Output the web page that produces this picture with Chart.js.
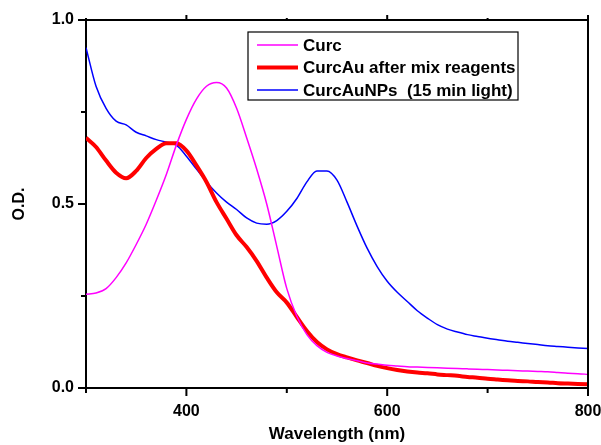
<!DOCTYPE html>
<html>
<head>
<meta charset="utf-8">
<script src="https://cdn.jsdelivr.net/npm/chart.js@4.4.1/dist/chart.umd.min.js"></script>
<style>
  html, body { margin: 0; padding: 0; background: #fff; }
  #wrap { width: 601px; height: 445px; }
</style>
</head>
<body>
<div id="wrap"><canvas id="chart" width="601" height="445"></canvas></div>
<script>
// 波长 (nm)
const wavelength = [300, 310, 320, 330, 340, 350, 360, 370, 380, 390,
                    400, 410, 420, 430, 440, 450, 460, 470, 480, 490,
                    500, 510, 520, 530, 540, 550, 560, 570, 580, 590,
                    600, 610, 620, 630, 640, 650, 660, 670, 680, 690,
                    700, 710, 720, 730, 740, 750, 760, 770, 780, 790, 800];

const curc = [0.255, 0.258, 0.270, 0.300, 0.340, 0.390, 0.445, 0.510, 0.580, 0.660,
              0.730, 0.785, 0.820, 0.830, 0.815, 0.760, 0.680, 0.595, 0.500, 0.385,
              0.270, 0.195, 0.145, 0.115, 0.097, 0.087, 0.080, 0.074, 0.068, 0.065,
              0.062, 0.060, 0.058, 0.057, 0.056, 0.055, 0.054, 0.053, 0.052, 0.051,
              0.050, 0.049, 0.048, 0.047, 0.046, 0.045, 0.044, 0.042, 0.040, 0.039, 0.037];

const curcAu = [0.680, 0.655, 0.618, 0.585, 0.570, 0.590, 0.625, 0.650, 0.665, 0.665,
                0.645, 0.605, 0.560, 0.505, 0.460, 0.415, 0.383, 0.345, 0.300, 0.260,
                0.232, 0.193, 0.155, 0.125, 0.105, 0.092, 0.083, 0.075, 0.068, 0.060,
                0.054, 0.049, 0.045, 0.042, 0.040, 0.037, 0.035, 0.033, 0.030, 0.028,
                0.025, 0.023, 0.021, 0.019, 0.018, 0.016, 0.015, 0.013, 0.012, 0.011, 0.010];

const curcAuNPs = [0.925, 0.820, 0.760, 0.725, 0.715, 0.695, 0.685, 0.675, 0.668, 0.660,
                   0.630, 0.595, 0.560, 0.530, 0.505, 0.485, 0.462, 0.448, 0.445, 0.455,
                   0.480, 0.515, 0.560, 0.590, 0.590, 0.565, 0.505, 0.440, 0.380, 0.330,
                   0.290, 0.260, 0.235, 0.210, 0.190, 0.172, 0.160, 0.152, 0.145, 0.140,
                   0.135, 0.131, 0.127, 0.124, 0.121, 0.118, 0.115, 0.113, 0.111, 0.109, 0.107];

const seriesNames = ['Curc', 'CurcAu after mix reagents', 'CurcAuNPs  (15 min light)'];
const xLabelTicks = [400, 600, 800];
const yLabelTicks = [0, 0.5, 1.0];

const FONT = "'Liberation Sans', Arial, sans-serif";
const toPoints = (ys) => wavelength.map((x, i) => ({ x: x, y: ys[i] }));

// 坐标轴刻度线（外向）+ 顶部/右侧边框
const axisPlugin = {
    id: 'axisTicks',
    afterDraw(chart) {
        const ctx = chart.ctx;
        const xs = chart.scales.x, ys = chart.scales.y;
        const a = chart.chartArea;
        ctx.save();
        ctx.strokeStyle = '#000';
        ctx.lineWidth = 2;
        ctx.beginPath();
        ctx.moveTo(a.left, a.top); ctx.lineTo(a.right, a.top); ctx.lineTo(a.right, a.bottom);
        ctx.stroke();
        for (let v = 300; v <= 800; v += 100) {
            const px = xs.getPixelForValue(v);
            const len = xLabelTicks.includes(v) ? 8 : 5;
            ctx.beginPath();
            ctx.moveTo(px, a.bottom); ctx.lineTo(px, a.bottom + len);
            ctx.moveTo(px, a.top); ctx.lineTo(px, a.top - (len - 3));
            ctx.stroke();
        }
        for (let v = 0; v <= 1.0001; v += 0.25) {
            const py = ys.getPixelForValue(v);
            const len = (Math.abs(v * 2 - Math.round(v * 2)) < 1e-6) ? 8 : 5;
            ctx.beginPath();
            ctx.moveTo(a.left, py); ctx.lineTo(a.left - len, py);
            ctx.stroke();
        }
        ctx.restore();
    }
};

// 图例框
const legendPlugin = {
    id: 'boxLegend',
    afterDatasetsDraw(chart) {
        const ctx = chart.ctx;
        const bx = 248, by = 32, bw = 270, bh = 68;
        ctx.save();
        ctx.fillStyle = '#fff';
        ctx.fillRect(bx, by, bw, bh);
        ctx.strokeStyle = '#000';
        ctx.lineWidth = 1.2;
        ctx.strokeRect(bx, by, bw, bh);
        ctx.font = 'bold 17px ' + FONT;
        ctx.textBaseline = 'middle';
        chart.data.datasets.forEach((ds, i) => {
            const y = by + 13 + i * 22.5;
            ctx.strokeStyle = ds.borderColor;
            ctx.lineWidth = ds.borderWidth;
            ctx.beginPath();
            ctx.moveTo(257, y); ctx.lineTo(298, y);
            ctx.stroke();
            ctx.fillStyle = '#000';
            ctx.fillText(ds.label, 303, y + 1);
        });
        ctx.restore();
    }
};

new Chart(document.getElementById('chart').getContext('2d'), {
    type: 'line',
    data: {
        datasets: [
            { label: seriesNames[0], data: toPoints(curc), borderColor: '#ff00ff', borderWidth: 1.5 },
            { label: seriesNames[1], data: toPoints(curcAu), borderColor: '#ff0000', borderWidth: 4 },
            { label: seriesNames[2], data: toPoints(curcAuNPs), borderColor: '#0000ff', borderWidth: 1.5 }
        ]
    },
    options: {
        responsive: false,
        animation: false,
        elements: {
            point: { radius: 0 },
            line: { tension: 0.35, cubicInterpolationMode: 'monotone', fill: false }
        },
        layout: { padding: { left: 0, right: 13, top: 20, bottom: 0 } },
        plugins: {
            legend: { display: false },
            tooltip: { enabled: false }
        },
        scales: {
            x: {
                type: 'linear',
                min: 300, max: 800,
                afterFit: (s) => { s.height = 57; s.paddingLeft = 0; s.paddingRight = 0; },
                grid: { display: false },
                border: { display: true, color: '#000', width: 2 },
                ticks: {
                    stepSize: 100,
                    padding: 6,
                    maxRotation: 0,
                    color: '#000',
                    font: { family: FONT, size: 16, weight: 'bold' },
                    callback: (v) => xLabelTicks.includes(v) ? String(v) : ''
                },
                title: {
                    display: true,
                    text: 'Wavelength (nm)',
                    color: '#000',
                    font: { family: FONT, size: 17, weight: 'bold' },
                    padding: { top: 0, bottom: 0 }
                }
            },
            y: {
                type: 'linear',
                min: 0, max: 1.0,
                afterFit: (s) => { s.width = 86; s.paddingTop = 0; s.paddingBottom = 0; },
                grid: { display: false },
                border: { display: true, color: '#000', width: 2 },
                ticks: {
                    stepSize: 0.25,
                    padding: 4,
                    color: '#000',
                    font: { family: FONT, size: 16, weight: 'bold' },
                    callback: (v) => yLabelTicks.some(t => Math.abs(t - v) < 1e-6) ? v.toFixed(1) : ''
                },
                title: {
                    display: true,
                    text: 'O.D.',
                    color: '#000',
                    font: { family: FONT, size: 16, weight: 'bold' },
                    padding: { top: 10, bottom: 0 }
                }
            }
        }
    },
    plugins: [axisPlugin, legendPlugin]
});
</script>
</body>
</html>
